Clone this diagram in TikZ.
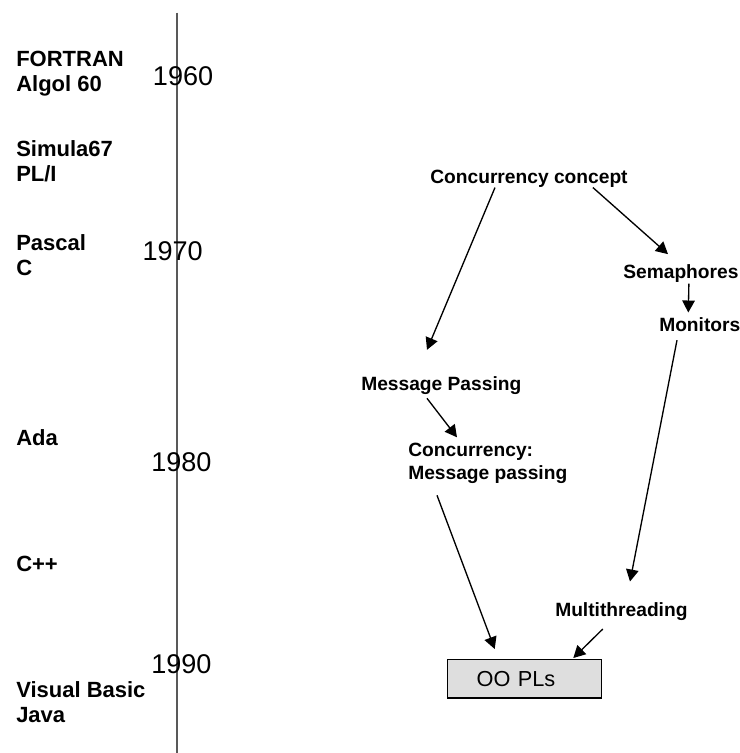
\documentclass[tikz,border=0pt]{standalone}
\usepackage{fontspec}
\setmainfont{Liberation Sans}
\usetikzlibrary{arrows.meta,calc}
\begin{document}
\begin{tikzpicture}[x=0.75pt,y=-0.75pt,
  lang/.style={font=\fontsize{16.5}{19.5}\selectfont\bfseries, inner sep=0pt, anchor=base west},
  year/.style={font=\fontsize{20.3}{24}\selectfont, inner sep=0pt, anchor=base west},
  lbl/.style={font=\fontsize{14.4}{17.25}\selectfont\bfseries, inner sep=0pt, anchor=base west},
  arr/.style={line width=1pt, -{Triangle[length=9pt,width=9.4pt]}},
  axis/.style={line width=1.5pt, draw=black!65}]
\useasboundingbox (0,0) rectangle (739,753);
% time axis
\coordinate (axtop) at (176.7,12.7);
\coordinate (axbot) at (176.7,753);
\draw[axis] (axtop) -- (axbot);
% languages
\node[lang] (fortran) at (16,66.7) {FORTRAN};
\node[lang] (algol) at (16,91.7) {Algol 60};
\node[lang] (simula) at (16,156.7) {Simula67};
\node[lang] (pli) at (16,181.7) {PL/I};
\node[lang] (pascal) at (16,250) {Pascal};
\node[lang] (clang) at (16,275) {C};
\node[lang] (ada) at (16,445) {Ada};
\node[lang] (cpp) at (16,571.7) {C++};
\node[lang] (vb) at (16,697.7) {Visual Basic};
\node[lang] (java) at (16,722.7) {Java};
% years
\node[year] (y1960) at (152.7,85) {1960};
\node[year] (y1970) at (142.3,260) {1970};
\node[year] (y1980) at (151,471.7) {1980};
\node[year] (y1990) at (151,673.3) {1990};
% concept nodes
\node[lbl] (cc) at (430,183.3) {Concurrency concept};
\node[lbl] (sem) at (623,278.3) {Semaphores};
\node[lbl] (mon) at (659,331.7) {Monitors};
\node[lbl] (mp) at (361,390) {Message Passing};
\node[lbl, anchor=north west, align=left] (cmp) at (408,443.3) {Concurrency:\\Message passing};
\node[lbl] (mt) at (555,616.7) {Multithreading};
\node[draw, line width=1pt, fill=black!13, anchor=north west,
      minimum width=115.7pt, minimum height=28.7pt, inner xsep=22pt, inner ysep=0pt,
      text width=71.7pt, align=left, font=\fontsize{16.3}{19}\selectfont] (oo) at (446.7,659) {OO PLs};
% arrows
\draw[arr] ($(cc.south west)+(65,0)$) -- ($(mp.north west)+(66,-26)$);
\draw[arr] ($(cc.south east)+(-35,0)$) -- ($(sem.north west)+(45,-10)$);
\draw[arr] ($(sem.south)+(8,1)$) -- ($(mon.north)+(-11.5,-5)$);
\draw[arr] ($(mon.south west)+(18,8)$) -- ($(mt.north west)+(75,-21)$);
\draw[arr] ($(mp.south west)+(66,4)$) -- ($(cmp.north west)+(49,-6)$);
\draw[arr] ($(cmp.south west)+(29,11)$) -- ($(oo.north west)+(48,-10)$);
\draw[arr] ($(mt.south east)+(-85,8)$) -- ($(oo.north east)+(-29,-1)$);
\end{tikzpicture}
\end{document}
